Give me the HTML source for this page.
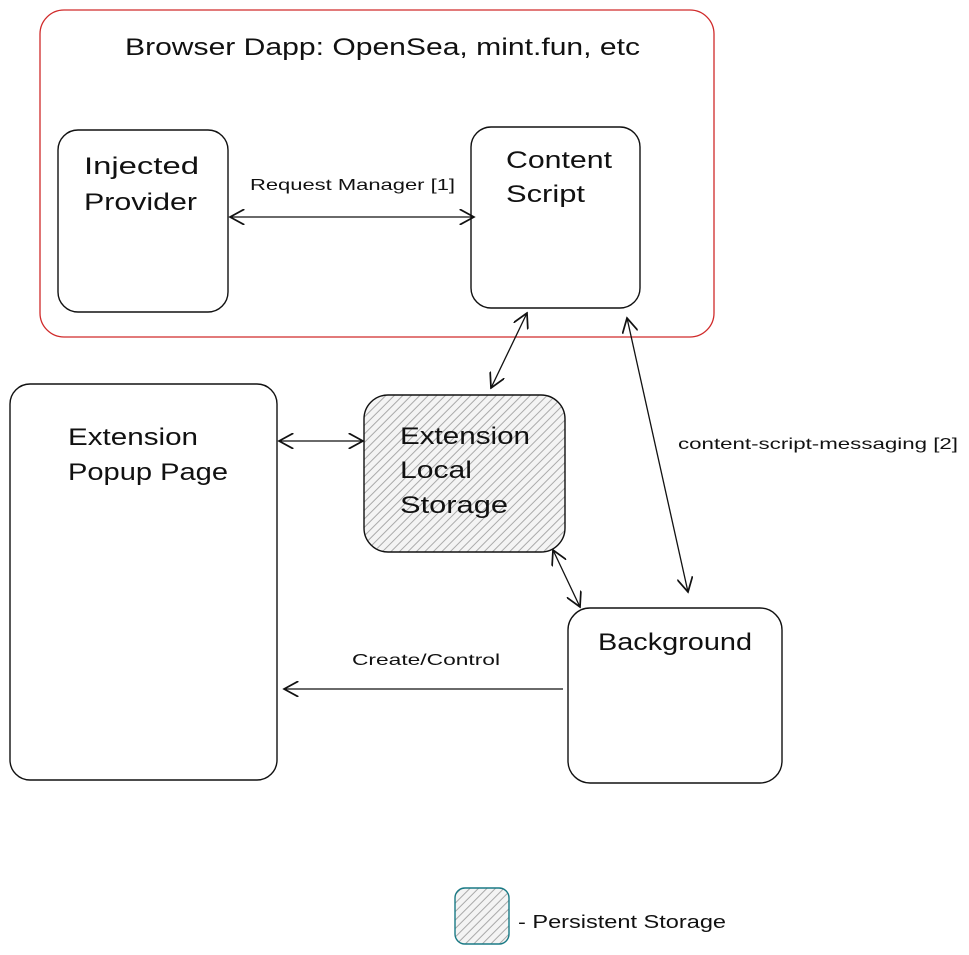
<!DOCTYPE html>
<html><head><meta charset="utf-8"><style>
html,body{margin:0;padding:0;background:#fff;}
svg{display:block;}
text{font-family:"Liberation Sans",sans-serif;fill:#111;}
</style></head><body>
<svg width="969" height="955" viewBox="0 0 969 955" xmlns="http://www.w3.org/2000/svg">
<defs>
<pattern id="h" patternUnits="userSpaceOnUse" width="6" height="6" patternTransform="rotate(45)">
<rect width="6" height="6" fill="#f4f4f4"/>
<line x1="0" y1="0" x2="0" y2="6" stroke="#aaa" stroke-width="2"/>
</pattern>
<marker id="a" viewBox="0 0 12 12" refX="11" refY="6" markerWidth="16" markerHeight="16" orient="auto-start-reverse" markerUnits="userSpaceOnUse">
<path d="M0,0 L11,6 L0,12" fill="none" stroke="#111" stroke-width="1.3"/>
</marker>
</defs>
<rect x="40" y="10" width="674" height="327" rx="24" fill="none" stroke="#d02a2a" stroke-width="1.3"/>
<text x="125" y="55" font-size="24" textLength="515" lengthAdjust="spacingAndGlyphs">Browser Dapp: OpenSea, mint.fun, etc</text>

<rect x="58" y="130" width="170" height="182" rx="20" fill="#fff" stroke="#111" stroke-width="1.4"/>
<text x="84" y="174" font-size="24" textLength="115" lengthAdjust="spacingAndGlyphs">Injected</text>
<text x="84" y="210" font-size="24" textLength="113" lengthAdjust="spacingAndGlyphs">Provider</text>

<rect x="471" y="127" width="169" height="181" rx="20" fill="#fff" stroke="#111" stroke-width="1.4"/>
<text x="506" y="168" font-size="24" textLength="106" lengthAdjust="spacingAndGlyphs">Content</text>
<text x="506" y="202" font-size="24" textLength="79" lengthAdjust="spacingAndGlyphs">Script</text>

<line x1="230" y1="217" x2="474" y2="217" stroke="#111" stroke-width="1.3" marker-start="url(#a)" marker-end="url(#a)"/>
<text x="250" y="190" font-size="16" textLength="205" lengthAdjust="spacingAndGlyphs">Request Manager [1]</text>

<rect x="10" y="384" width="267" height="396" rx="20" fill="#fff" stroke="#111" stroke-width="1.4"/>
<text x="68" y="445" font-size="24" textLength="130" lengthAdjust="spacingAndGlyphs">Extension</text>
<text x="68" y="480" font-size="24" textLength="160" lengthAdjust="spacingAndGlyphs">Popup Page</text>

<rect x="364" y="395" width="201" height="157" rx="24" fill="url(#h)" stroke="#111" stroke-width="1.4"/>
<text x="400" y="444" font-size="24" textLength="130" lengthAdjust="spacingAndGlyphs">Extension</text>
<text x="400" y="478" font-size="24" textLength="72" lengthAdjust="spacingAndGlyphs">Local</text>
<text x="400" y="513" font-size="24" textLength="108" lengthAdjust="spacingAndGlyphs">Storage</text>

<rect x="568" y="608" width="214" height="175" rx="22" fill="#fff" stroke="#111" stroke-width="1.4"/>
<text x="598" y="650" font-size="24" textLength="154" lengthAdjust="spacingAndGlyphs">Background</text>

<line x1="527" y1="313" x2="491" y2="388" stroke="#111" stroke-width="1.3" marker-start="url(#a)" marker-end="url(#a)"/>
<line x1="627" y1="318" x2="688" y2="592" stroke="#111" stroke-width="1.3" marker-start="url(#a)" marker-end="url(#a)"/>
<text x="678" y="449" font-size="16" textLength="280" lengthAdjust="spacingAndGlyphs">content-script-messaging [2]</text>
<line x1="279" y1="441" x2="363" y2="441" stroke="#111" stroke-width="1.3" marker-start="url(#a)" marker-end="url(#a)"/>
<line x1="553" y1="550" x2="580" y2="607" stroke="#111" stroke-width="1.3" marker-start="url(#a)" marker-end="url(#a)"/>
<line x1="563" y1="689" x2="284" y2="689" stroke="#111" stroke-width="1.3" marker-end="url(#a)"/>
<text x="352" y="665" font-size="16" textLength="148" lengthAdjust="spacingAndGlyphs">Create/Control</text>

<rect x="455" y="888" width="54" height="56" rx="10" fill="url(#h)" stroke="#1a7a85" stroke-width="1.4"/>
<text x="518" y="928" font-size="18" textLength="208" lengthAdjust="spacingAndGlyphs">- Persistent Storage</text>
</svg>
</body></html>
